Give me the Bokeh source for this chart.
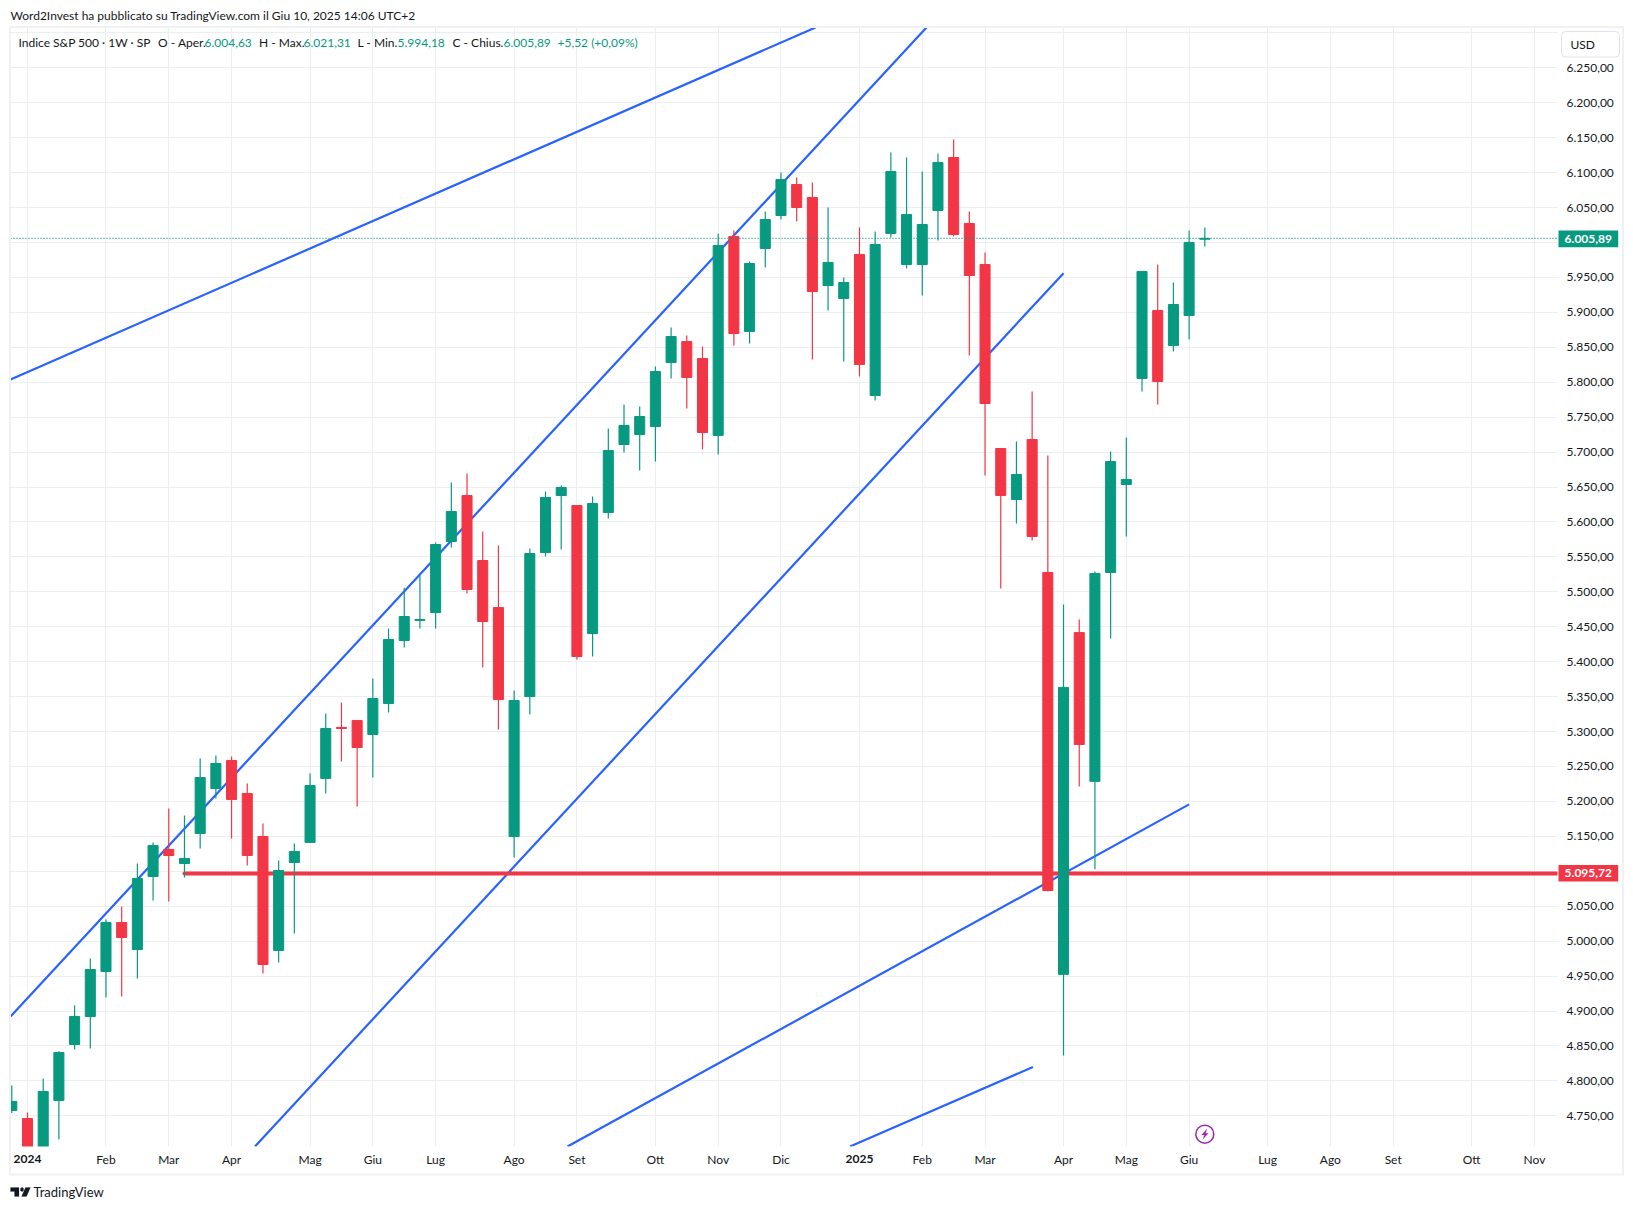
from bokeh.plotting import figure
from bokeh.embed import file_html
from bokeh.resources import INLINE
from bokeh.models import (ColumnDataSource, FixedTicker, Label, BoxAnnotation, PolyAnnotation)

# ---------- data ----------
open_ = [4757.7,4746.2,4703.7,4772,4852.1,4892.2,4956.6,5026.8,4988.1,5092.6,5131.2,5111.2,5154.1,5218.5,5258.6,5211.4,5149.8,4986.7,5112.6,5141.3,
         5232.9,5305.9,5315.9,5295.8,5340.2,5430.3,5459.1,5470.4,5572,5637.8,5544.8,5477.5,5149.8,5350.1,5556.2,5637.8,5623.5,5440.3,5613.5,5710.8,
         5725.1,5736.6,5828.2,5858.2,5833.9,5723.8,6008.6,5872.6,5991.4,6038.6,6083,6064.4,5938.4,5919.8,5982.8,5781,6012.9,5968.5,5968.5,6045.8,
         6121.6,6027.2,5968.5,5705.1,5632.1,5718,5527.7,4952.5,5441.6,5228.7,5527.7,5653.6,5805.3,5902.7,5852.6,5895.5,6004.63]
high = [4793.5,4754.8,4803.5,4842.6,4907.9,4975.2,5031.1,5049.7,5111.2,5141.3,5189.9,5179.9,5261.5,5265.8,5264.3,5225.7,5168.5,5115.5,5139.8,5240,
        5325.9,5341.6,5315.9,5376,5447.5,5505.7,5523.3,5570.6,5656.4,5669.3,5586.3,5566.3,5358.7,5562,5643.6,5652.1,5623.5,5636.4,5733.7,5768.1,
        5765.2,5822.4,5878.3,5866.8,5851.1,6012.9,6017.2,5972.8,6044.4,6100.2,6093,6085.9,6050.1,5949.9,6021.4,6015.7,6128.8,6121.6,6101.6,6127.4,
        6147.4,6044.4,5985.7,5705.1,5715.2,5786.7,5695.1,5481.8,5460.5,5529.2,5700.8,5720.9,5958.5,5968.5,5942.7,6017.2,6021.31]
low = [4753.9,4682,4699.8,4716.2,4845,4846.4,4919.4,4920.8,4946.6,5058.3,5056.8,5091.2,5132.7,5204.2,5147,5108.3,4953.8,4969.5,5011,5141.3,
       5211.4,5257.2,5192.8,5234.3,5327.3,5420.3,5447.5,5447.5,5563.4,5497.6,5391.6,5302.9,5119.7,5324.4,5550.5,5560.5,5403.1,5407.4,5604.9,5699.4,
       5673.6,5686.5,5805.3,5762.3,5703.6,5696.5,5852.6,5855.4,5964.2,6032.9,6030,5832.5,5902.7,5829.7,5808.2,5773.8,6007.1,5962.8,5924.1,6002.8,
       6008.6,5838.2,5666.5,5504.8,5597.8,5573.5,5071,4836.3,5221.5,5102.9,5433.2,5579.2,5786.7,5768.1,5844,5861.2,5994.18]
close = [4770.6,4697,4784.9,4840.7,4892.2,4959.5,5026.8,5005.3,5089.7,5137,5122.6,5118.4,5234.3,5254.3,5202.8,5122.6,4966.6,5101.2,5128.4,5222.8,
         5304.4,5304.4,5277.2,5347.3,5431.8,5464.6,5460.4,5567.7,5614.9,5503.3,5457.5,5345.8,5344.4,5554.8,5635,5649.3,5407.4,5626.4,5702.2,5738,
         5750.9,5815.3,5865.4,5806.7,5728,5995.7,5869.7,5969.9,6032.9,6090.2,6050.1,5929.8,5971.4,5942.7,5825.4,5997.1,6101.6,6040.1,6025.7,6114.5,
         6011.4,5952.7,5769.5,5637.9,5667.9,5579.2,5072.5,5363.2,5281.5,5526.3,5686.5,5660.8,5958.5,5801,5911.2,6000,6005.89]
week = list(range(len(open_)))

month_ticks = [6,10,14,19,23,27,32,36,41,45,49,58,62,67,71,75,80,84,88,93,97]
month_labels = ["Feb","Mar","Apr","Mag","Giu","Lug","Ago","Set","Ott","Nov","Dic","Feb","Mar","Apr","Mag","Giu","Lug","Ago","Set","Ott","Nov"]
year_ticks = [1,54]
year_labels = ["2024","2025"]

price_ticks = [6250,6200,6150,6100,6050,5950,5900,5850,5800,5750,5700,5650,5600,5550,5500,5450,5400,5350,5300,5250,5200,5150,5050,5000,4950,4900,4850,4800,4750]
price_labels = ["6.250,00","6.200,00","6.150,00","6.100,00","6.050,00","5.950,00","5.900,00","5.850,00","5.800,00","5.750,00","5.700,00","5.650,00","5.600,00","5.550,00","5.500,00","5.450,00","5.400,00","5.350,00","5.300,00","5.250,00","5.200,00","5.150,00","5.050,00","5.000,00","4.950,00","4.900,00","4.850,00","4.800,00","4.750,00"]
grid_price = [6300,6000,5100]

last_price = 6005.89
support_price = 5097.0
support_x = [11, 98.47]
right_edge = 98.47
bottom_edge = 4706.1
trend_a_x, trend_a_y = [-0.08, 51.2], [5803.9, 6307.7]
trend_b_x, trend_b_y = [-0.08, 58.27], [4892.2, 6307.7]
trend_c_x, trend_c_y = [15.49, 67.0], [4706.1, 5956.1]
trend_d_x, trend_d_y = [35.4, 75.0], [4706.1, 5195.8]
trend_e_x, trend_e_y = [53.4, 65.05], [4706.1, 4819.8]
event_x, event_y = [76], [4723.8]

GREEN, RED, BLUE, GRID, INK, PURPLE = "#089981", "#F23645", "#2962FF", "#edeef1", "#131722", "#9C27B0"
FONT = "Lato"
W, H = 1625, 1201

# The frame fills the canvas so that annotations may sit anywhere; the axes sit at fixed locations.
p = figure(frame_width=W, frame_height=H, min_border=0, x_range=(-0.72, 102.80), y_range=(4627.4, 6346.3),
           output_backend="svg", toolbar_location=None, x_axis_location="below", y_axis_location="right",
           background_fill_color="white", border_fill_color="white", outline_line_color=None)

p.xaxis.fixed_location = bottom_edge
p.yaxis.fixed_location = right_edge
p.xaxis.ticker = FixedTicker(ticks=month_ticks)
p.xaxis.major_label_overrides = dict(zip(month_ticks, month_labels))
p.yaxis.ticker = FixedTicker(ticks=price_ticks)
p.yaxis.major_label_overrides = dict(zip(price_ticks, price_labels))
for ax in (p.xaxis[0], p.yaxis[0]):
    ax.axis_line_color = None
    ax.major_tick_line_color = None
    ax.minor_tick_line_color = None
    ax.major_label_text_font = FONT
    ax.major_label_text_font_size = "12px"
    ax.major_label_text_color = INK
p.yaxis.major_label_standoff = 3
p.xaxis.major_label_standoff = -1
p.xgrid.ticker = FixedTicker(ticks=month_ticks + year_ticks)
p.ygrid.ticker = FixedTicker(ticks=price_ticks + grid_price)
p.xgrid.grid_line_color = GRID
p.ygrid.grid_line_color = GRID

for xs, ys in ((trend_a_x, trend_a_y), (trend_b_x, trend_b_y), (trend_c_x, trend_c_y),
               (trend_d_x, trend_d_y), (trend_e_x, trend_e_y)):
    p.line(xs, ys, line_color=BLUE, line_width=2.2)
p.line(support_x, [support_price]*2, line_color=RED, line_width=4, line_cap="round")

colors = [GREEN if c >= o else RED for o, c in zip(open_, close)]
src = ColumnDataSource(dict(x=week, o=open_, h=high, l=low, c=close, col=colors))
p.segment("x", "h", "x", "l", source=src, line_color="col", line_width=1.2)
p.vbar("x", 0.64, "o", "c", source=src, fill_color="col", line_color="col", line_width=1)
p.line([-0.083, right_edge], [last_price]*2, line_color=GREEN, line_width=1.3, line_dash=[1, 2])
p.scatter(event_x, event_y, marker="circle", size=18, fill_color="white", line_color=PURPLE, line_width=1.5)

SX = lambda x: x
SY = lambda y: H - y

def text(x, y, s, color=INK, align="left", bold=False, size="12px"):
    p.add_layout(Label(x=SX(x), y=SY(y), x_units="screen", y_units="screen", text=s, text_color=color,
                       text_font=FONT, text_font_size=size, text_align=align, text_baseline="middle",
                       text_font_style="bold" if bold else "normal", level="overlay"))

def box(l, r, t, b, fill, line=None, lw=1, radius=0, level="overlay"):
    p.add_layout(BoxAnnotation(left=SX(l), right=SX(r), top=SY(t), bottom=SY(b), left_units="screen",
                               right_units="screen", top_units="screen", bottom_units="screen",
                               fill_color=fill, fill_alpha=1 if fill else 0, line_color=line, line_width=lw,
                               line_alpha=1 if line else 0, border_radius=radius, level=level))

def poly(pts, fill):
    p.add_layout(PolyAnnotation(xs=[SX(a) for a, _ in pts], ys=[SY(b) for _, b in pts], xs_units="screen",
                                ys_units="screen", fill_color=fill, fill_alpha=1, line_color=fill, line_width=0.5,
                                level="overlay"))

# white masks that confine the marks and grid lines to the price pane
box(0, W, 0, 27, "white", level="glyph")
box(0, W, 1146, H, "white", level="glyph")
box(0, 10, 0, H, "white", level="glyph")
box(1557, W, 0, H, "white", level="glyph")

# panel border
box(9.5, 1622.5, 26.5, 1174, None, line="#f0f1f3", lw=2)

text(10, 15, "Word2Invest ha pubblicato su TradingView.com il Giu 10, 2025 14:06 UTC+2")
for x, s, c in ((18, "Indice S&P 500 · 1W · SP", INK), (157.6, "O - Aper.", INK), (204, "6.004,63", GREEN),
                (258.5, "H - Max.", INK), (303, "6.021,31", GREEN), (357, "L - Min.", INK), (397, "5.994,18", GREEN),
                (452, "C - Chius.", INK), (503, "6.005,89", GREEN), (557, "+5,52 (+0,09%)", GREEN)):
    text(x, 42, s, c)

# year labels
for t, s in zip(year_ticks, year_labels):
    p.add_layout(Label(x=t, y=SY(1158), y_units="screen", text=s, text_color=INK, text_font=FONT,
                       text_font_size="12px", text_font_style="bold", text_align="center", text_baseline="middle",
                       level="overlay"))

# USD button
box(1561, 1619, 31, 56.5, "white", line="#e0e3eb", lw=1, radius=4)
text(1570, 44, "USD")

# price tags
box(1558, 1617.7, 230, 246.7, GREEN)
text(1587.8, 238.3, "6.005,89", "white", "center", True)
box(1558, 1617.7, 864.4, 881, RED)
text(1587.8, 872.7, "5.095,72", "white", "center", True)

# bolt
poly([(1206.6,1128.3),(1201,1134.6),(1203.9,1134.6),(1202.2,1139),(1207.9,1132.8),(1205,1132.8)], PURPLE)

# TradingView logo
poly([(10,1187),(18.5,1187),(18.5,1196),(14,1196),(14,1191),(10,1191)], INK)
poly([(20,1188),(21,1187),(22,1187),(23,1188),(23,1190),(22,1191),(21,1191),(20,1190)], INK)
poly([(25,1187),(30,1187),(26,1196),(21,1196)], INK)
text(33, 1191, "TradingView", INK, size="13px")

open("out.html", "w").write(file_html(p, INLINE))
